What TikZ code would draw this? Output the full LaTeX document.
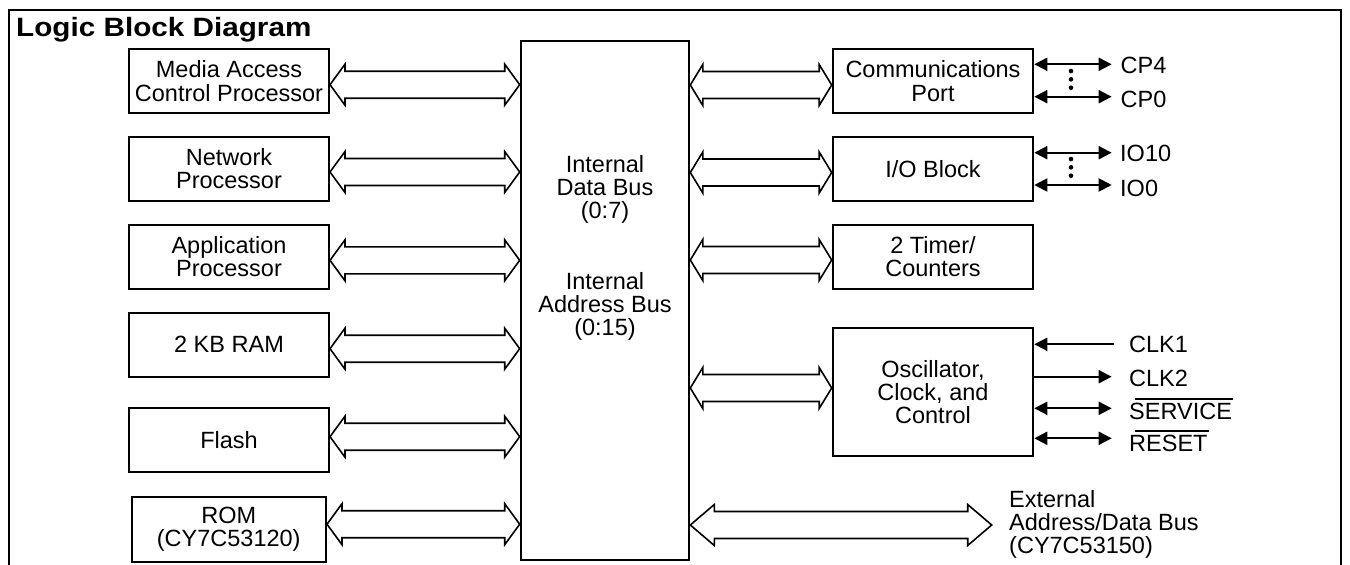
\documentclass[tikz,border=0pt]{standalone}
\usepackage{fontspec}
\setmainfont{Liberation Sans}
\newfontfamily\titlefont{Liberation Sans}[FakeStretch=1.12]
\usetikzlibrary{calc,arrows.meta}
% bus arrow: #1 left tip, #2 right tip, #3 head length, #4 head half-height, #5 shaft half-height
\newcommand\busarrow[5]{%
  \draw[busline] ($(#1)+(#3,-#5)$) -- ($(#2)+(-#3,-#5)$) -- ($(#2)+(-#3,-#4)$) -- (#2)
    -- ($(#2)+(-#3,#4)$) -- ($(#2)+(-#3,#5)$) -- ($(#1)+(#3,#5)$) -- ($(#1)+(#3,#4)$)
    -- (#1) -- ($(#1)+(#3,-#4)$) -- cycle;}
\begin{document}
\begin{tikzpicture}[x=1pt,y=-1pt,
  every node/.style={font=\fontsize{23.5}{23.3}\selectfont, inner sep=0pt},
  blk/.style={draw, line width=2pt, minimum width=200pt, minimum height=64pt, align=center},
  busline/.style={draw, line width=1.6pt, fill=white, line join=miter},
  sig/.style={line width=2pt},
  tip/.tip={Triangle[length=13pt,width=13pt]},
  both/.style={sig, tip-tip},
  ovl/.style={line width=1.7pt},
  lbl/.style={anchor=base west}]
\useasboundingbox (0,0) rectangle (1350,565);
% frame
\draw[line width=2pt] (9,565) -- (9,10) -- (1341,10) -- (1341,565);
\node[anchor=base west, font={\titlefont\bfseries\fontsize{26.5}{28}\selectfont}] (title) at (16,36.5) {Logic Block Diagram};
% left blocks
\node[blk] (mac) at (229,81) {Media Access\\Control Processor};
\node[blk] (net) at (229,168.8) {Network\\Processor};
\node[blk] (app) at (229,256.7) {Application\\Processor};
\node[blk] (ram) at (229,344.7) {2 KB RAM};
\node[blk] (flash) at (229,440.3) {Flash};
\node[blk, minimum width=194.5pt, minimum height=65pt] (rom) at (228.75,529.2) {ROM\\(CY7C53120)};
% central bus
\node[blk, minimum width=168.6pt, minimum height=519.3pt] (cbus) at (605,300.35) {};
\node[align=center] (idb) at (605,189.6) {Internal\\Data Bus\\(0:7)};
\node[align=center] (iab) at (605,306.4) {Internal\\Address Bus\\(0:15)};
% right blocks
\node[blk, minimum width=200.6pt] (comm) at (933,81) {Communications\\Port};
\node[blk, minimum width=200.6pt] (io) at (933,168.8) {I/O Block};
\node[blk, minimum width=200.6pt] (tim) at (933,256.7) {2 Timer/\\Counters};
\node[blk, minimum width=200.6pt, minimum height=127.7pt] (osc) at (933,392.2) {Oscillator,\\Clock, and\\Control};
% left bus arrows
\foreach \n/\yy in {mac/84.7, net/172, app/260.3, ram/348.7, flash/436.7, rom/524.2}{
  \coordinate (y\n) at (0,\yy);
  \coordinate (l\n) at (\n.east |- y\n);
  \coordinate (r\n) at (cbus.west |- y\n);
  \busarrow{l\n}{r\n}{15}{20.5}{13.5}
}
% right bus arrows
\foreach \n/\yy in {comm/85, io/172.5, tim/260, osc/388}{
  \coordinate (y\n) at (0,\yy);
  \coordinate (l\n) at (cbus.east |- y\n);
  \coordinate (r\n) at (\n.west |- y\n);
  \busarrow{l\n}{r\n}{12.5}{20.5}{13.5}
}
% external bus
\coordinate (extr) at (991.7,525);
\coordinate (extl) at (cbus.east |- extr);
\busarrow{extl}{extr}{24}{20.5}{13.5}
\node[anchor=north west, align=left] (ext) at (1009,489.9) {External\\Address/Data Bus\\(CY7C53150)};
% signals
\coordinate (cp4e) at (1111.7,64.3);
\coordinate (cp0e) at (1111.7,96.7);
\coordinate (io10e) at (1111.7,152.7);
\coordinate (io0e) at (1111.7,185);
\draw[both] (comm.east |- cp4e) -- (cp4e);
\draw[both] (comm.east |- cp0e) -- (cp0e);
\draw[both] (io.east |- io10e) -- (io10e);
\draw[both] (io.east |- io0e) -- (io0e);
\foreach \yy in {71,79.3,87.7,159,167.3,175.7}{\fill (1071,\yy) circle (2.3);}
\coordinate (clk1s) at (1114,344.3);
\coordinate (clk2e) at (1111.7,376.7);
\coordinate (svce) at (1111.7,408.3);
\coordinate (rste) at (1111.7,438.3);
\draw[sig,-tip] (clk1s) -- (osc.east |- clk1s);
\draw[sig,-tip] (osc.east |- clk2e) -- (clk2e);
\draw[both] (osc.east |- svce) -- (svce);
\draw[both] (osc.east |- rste) -- (rste);
% labels
\node[lbl] (lcp4) at (1120.5,73.3) {CP4};
\node[lbl] (lcp0) at (1120.5,107.7) {CP0};
\node[lbl] (lio10) at (1120,161.7) {IO10};
\node[lbl] (lio0) at (1120,196) {IO0};
\node[lbl] (lclk1) at (1129,352.7) {CLK1};
\node[lbl] (lclk2) at (1129,386.7) {CLK2};
\node[lbl] (lsvc) at (1129,419.3) {SERVICE};
\node[lbl] (lrst) at (1129,451) {RESET};
\draw[ovl] ([xshift=6pt,yshift=3.5pt]lsvc.north west) -- ([xshift=1pt,yshift=3.5pt]lsvc.north east);
\draw[ovl] ([xshift=6pt,yshift=3.5pt]lrst.north west) -- ([xshift=1pt,yshift=3.5pt]lrst.north east);
\end{tikzpicture}
\end{document}
